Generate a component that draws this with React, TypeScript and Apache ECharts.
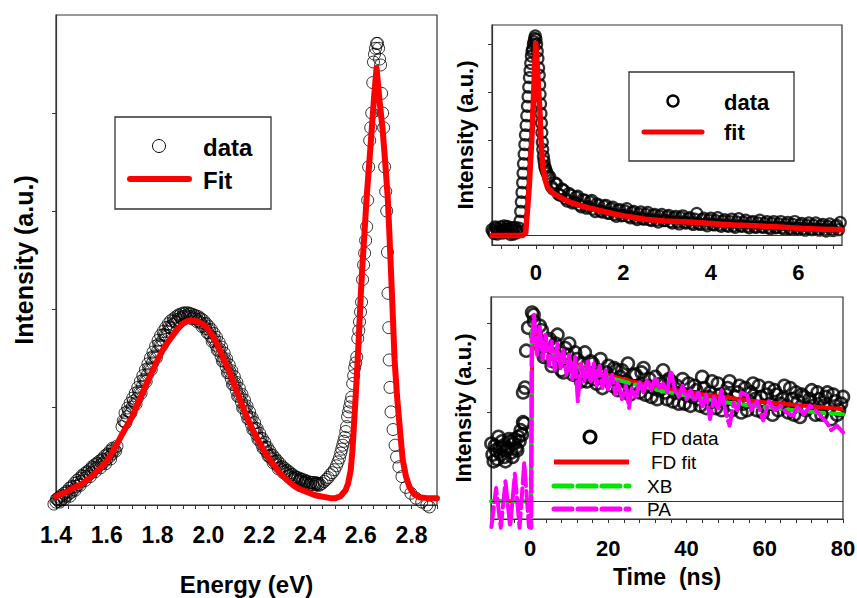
import React, { useEffect, useRef } from 'react';
import * as echarts from 'echarts';

const FONT = '"Liberation Sans", Arial, sans-serif';

// ---------- Left panel: PL spectrum ----------
const specData: number[][] = [
  [1.40, 0.03], [1.41, 0.04], [1.42, 0.05], [1.43, 0.07], [1.44, 0.09], [1.45, 0.11], [1.46, 0.13], [1.47, 0.16],
  [1.48, 0.19], [1.49, 0.21], [1.50, 0.24], [1.51, 0.27], [1.52, 0.29], [1.53, 0.31], [1.54, 0.33], [1.55, 0.36],
  [1.56, 0.38], [1.57, 0.40], [1.58, 0.42], [1.59, 0.44], [1.60, 0.47], [1.61, 0.49], [1.62, 0.52], [1.63, 0.56],
  [1.64, 0.60], [1.66, 0.80], [1.67, 0.85], [1.68, 0.90], [1.69, 0.95], [1.70, 1.00], [1.71, 1.04], [1.72, 1.09],
  [1.73, 1.15], [1.74, 1.21], [1.75, 1.27], [1.76, 1.33], [1.77, 1.39], [1.78, 1.45], [1.79, 1.51], [1.80, 1.57],
  [1.81, 1.63], [1.82, 1.68], [1.83, 1.73], [1.84, 1.77], [1.85, 1.81], [1.86, 1.84], [1.87, 1.87], [1.88, 1.89],
  [1.89, 1.91], [1.90, 1.92], [1.91, 1.93], [1.92, 1.93], [1.93, 1.92], [1.94, 1.91], [1.95, 1.90], [1.96, 1.88],
  [1.97, 1.86], [1.98, 1.83], [1.99, 1.80], [2.00, 1.76], [2.01, 1.72], [2.02, 1.68], [2.03, 1.63], [2.04, 1.58],
  [2.05, 1.52], [2.06, 1.47], [2.07, 1.41], [2.08, 1.35], [2.09, 1.29], [2.10, 1.23], [2.11, 1.17], [2.12, 1.11],
  [2.13, 1.05], [2.14, 0.99], [2.15, 0.93], [2.16, 0.88], [2.17, 0.82], [2.18, 0.77], [2.19, 0.72], [2.20, 0.67],
  [2.21, 0.62], [2.22, 0.58], [2.23, 0.54], [2.24, 0.50], [2.25, 0.47], [2.26, 0.44], [2.27, 0.41], [2.28, 0.38],
  [2.29, 0.36], [2.30, 0.34], [2.31, 0.32], [2.32, 0.30], [2.33, 0.28], [2.34, 0.27], [2.35, 0.26], [2.36, 0.25],
  [2.37, 0.24], [2.38, 0.23], [2.39, 0.22], [2.40, 0.21], [2.41, 0.21], [2.42, 0.21], [2.43, 0.21],
  [2.440, 0.21], [2.448, 0.22], [2.456, 0.24], [2.464, 0.26], [2.472, 0.28], [2.480, 0.31], [2.488, 0.33],
  [2.496, 0.36], [2.504, 0.40], [2.510, 0.44], [2.516, 0.48], [2.521, 0.53], [2.525, 0.57], [2.529, 0.61],
  [2.533, 0.65], [2.537, 0.69], [2.541, 0.75], [2.544, 0.80], [2.548, 0.90], [2.552, 0.95], [2.556, 1.00],
  [2.560, 1.05], [2.564, 1.10], [2.568, 1.24], [2.572, 1.32], [2.576, 1.40], [2.580, 1.45], [2.584, 1.51],
  [2.588, 1.70], [2.592, 1.78], [2.595, 1.87], [2.599, 1.97], [2.603, 2.07], [2.607, 2.30], [2.611, 2.45],
  [2.615, 2.57], [2.619, 2.70], [2.623, 2.84], [2.627, 3.11], [2.631, 3.45], [2.635, 3.72], [2.639, 3.85],
  [2.643, 4.00], [2.647, 4.31], [2.650, 4.52], [2.654, 4.60], [2.658, 4.66], [2.662, 4.71], [2.666, 4.71],
  [2.670, 4.66], [2.674, 4.55], [2.678, 4.49], [2.682, 4.20], [2.686, 4.00], [2.690, 3.85], [2.694, 3.45],
  [2.698, 3.20], [2.702, 3.00], [2.705, 2.58], [2.707, 2.16], [2.710, 1.81], [2.712, 1.48], [2.715, 1.20],
  [2.719, 0.95], [2.727, 0.77], [2.735, 0.61], [2.741, 0.49], [2.750, 0.39], [2.762, 0.29], [2.778, 0.18],
  [2.797, 0.12], [2.817, 0.07], [2.840, 0.03], [2.860, 0.00], [2.870, -0.02],
];

// second, interleaved scan of the broad band
const specData2: number[][] = [
  [1.405, 0.06], [1.415, 0.03], [1.425, 0.09], [1.435, 0.06], [1.445, 0.13], [1.455, 0.09], [1.465, 0.18],
  [1.475, 0.15], [1.485, 0.23], [1.495, 0.20], [1.505, 0.29], [1.515, 0.25], [1.525, 0.33], [1.535, 0.29],
  [1.545, 0.38], [1.555, 0.34], [1.565, 0.42], [1.575, 0.38], [1.585, 0.46], [1.595, 0.42], [1.605, 0.51],
  [1.615, 0.47], [1.625, 0.57], [1.635, 0.55],
  [1.665, 0.86], [1.675, 0.84], [1.685, 0.96], [1.695, 0.94], [1.705, 1.06], [1.715, 1.03], [1.725, 1.16],
  [1.735, 1.14], [1.745, 1.28], [1.755, 1.26], [1.765, 1.40], [1.775, 1.38], [1.785, 1.52], [1.795, 1.50],
  [1.805, 1.64], [1.815, 1.62], [1.825, 1.74], [1.835, 1.72], [1.845, 1.82], [1.855, 1.80], [1.865, 1.88],
  [1.875, 1.86], [1.885, 1.93], [1.895, 1.90], [1.905, 1.95], [1.915, 1.91], [1.925, 1.95], [1.935, 1.90],
  [1.945, 1.93], [1.955, 1.87], [1.965, 1.90], [1.975, 1.82], [1.985, 1.85], [1.995, 1.76], [2.005, 1.78],
  [2.015, 1.67], [2.025, 1.69], [2.035, 1.58], [2.045, 1.59], [2.055, 1.47], [2.065, 1.48], [2.075, 1.35],
  [2.085, 1.36], [2.095, 1.23], [2.105, 1.24], [2.115, 1.11], [2.125, 1.12], [2.135, 0.99], [2.145, 1.00],
  [2.155, 0.88], [2.165, 0.89], [2.175, 0.77], [2.185, 0.78], [2.195, 0.67], [2.205, 0.68], [2.215, 0.58],
  [2.225, 0.59], [2.235, 0.50], [2.245, 0.51], [2.255, 0.43], [2.265, 0.45], [2.275, 0.37], [2.285, 0.39],
  [2.295, 0.33], [2.305, 0.35], [2.315, 0.29], [2.325, 0.31], [2.335, 0.26], [2.345, 0.28], [2.355, 0.24],
  [2.365, 0.26], [2.375, 0.22], [2.385, 0.24], [2.395, 0.20], [2.405, 0.23], [2.415, 0.19], [2.425, 0.22],
  [2.435, 0.20],
];

// third scan, slightly broader
const specData3: number[][] = [
  [1.392, 0.01], [1.402, 0.06], [1.412, 0.08], [1.422, 0.10], [1.432, 0.12], [1.442, 0.14], [1.452, 0.17],
  [1.462, 0.19], [1.472, 0.22], [1.482, 0.25], [1.492, 0.27], [1.502, 0.30], [1.512, 0.32], [1.522, 0.34],
  [1.532, 0.36], [1.542, 0.39], [1.552, 0.41], [1.562, 0.43], [1.572, 0.45], [1.582, 0.47], [1.592, 0.50],
  [1.602, 0.52], [1.612, 0.55], [1.622, 0.58],
  [1.672, 0.94], [1.682, 0.99], [1.692, 1.04], [1.702, 1.09], [1.712, 1.14], [1.722, 1.20], [1.732, 1.26],
  [1.742, 1.32], [1.752, 1.38], [1.762, 1.44], [1.772, 1.50], [1.782, 1.56], [1.792, 1.62], [1.802, 1.68],
  [1.812, 1.73], [1.822, 1.77], [1.832, 1.81], [1.842, 1.85], [1.852, 1.88], [1.862, 1.90], [1.872, 1.92],
  [1.882, 1.94], [1.892, 1.95], [1.902, 1.96], [1.912, 1.96], [1.922, 1.96], [1.932, 1.95], [1.942, 1.94],
  [1.952, 1.93], [1.962, 1.92], [1.972, 1.90], [1.982, 1.88], [1.992, 1.85], [2.002, 1.82], [2.012, 1.79],
  [2.022, 1.75], [2.032, 1.71], [2.042, 1.66], [2.052, 1.61], [2.062, 1.55], [2.072, 1.49], [2.082, 1.43],
  [2.092, 1.37], [2.102, 1.31], [2.112, 1.25], [2.122, 1.19], [2.132, 1.13], [2.142, 1.07], [2.152, 1.01],
  [2.162, 0.95], [2.172, 0.89], [2.182, 0.84], [2.192, 0.78], [2.202, 0.73], [2.212, 0.68], [2.222, 0.64],
  [2.232, 0.59], [2.242, 0.55], [2.252, 0.51], [2.262, 0.48], [2.272, 0.45], [2.282, 0.42], [2.292, 0.39],
  [2.302, 0.37], [2.312, 0.35], [2.322, 0.33], [2.332, 0.31], [2.342, 0.29], [2.352, 0.28], [2.362, 0.27],
  [2.372, 0.26], [2.382, 0.25], [2.392, 0.24], [2.402, 0.23], [2.412, 0.23], [2.422, 0.23], [2.432, 0.22],
];

const specFit: number[][] = [
  [1.40, 0.09], [1.42, 0.11], [1.44, 0.13], [1.46, 0.16], [1.48, 0.19], [1.50, 0.21], [1.52, 0.25], [1.54, 0.29],
  [1.56, 0.34], [1.58, 0.39], [1.60, 0.45], [1.62, 0.53], [1.64, 0.62], [1.66, 0.72], [1.68, 0.81], [1.70, 0.90],
  [1.72, 1.02], [1.74, 1.14], [1.76, 1.26], [1.78, 1.37], [1.80, 1.48], [1.82, 1.58], [1.84, 1.66], [1.86, 1.73],
  [1.88, 1.80], [1.90, 1.85], [1.92, 1.88], [1.94, 1.88], [1.96, 1.87], [1.98, 1.84], [2.00, 1.79], [2.02, 1.71],
  [2.04, 1.61], [2.06, 1.49], [2.08, 1.38], [2.10, 1.24], [2.12, 1.11], [2.14, 0.97], [2.16, 0.85], [2.18, 0.74],
  [2.20, 0.64], [2.22, 0.55], [2.24, 0.47], [2.26, 0.40], [2.28, 0.33], [2.30, 0.28], [2.32, 0.23], [2.34, 0.19],
  [2.36, 0.16], [2.38, 0.14], [2.40, 0.12], [2.42, 0.10], [2.44, 0.09], [2.46, 0.08], [2.48, 0.07], [2.50, 0.07],
  [2.52, 0.09], [2.54, 0.15], [2.55, 0.22], [2.56, 0.35], [2.567, 0.55], [2.575, 0.90], [2.584, 1.30],
  [2.592, 1.70], [2.600, 2.15], [2.607, 2.47], [2.615, 2.80], [2.623, 3.14], [2.633, 3.48], [2.643, 3.83],
  [2.652, 4.15], [2.662, 4.46], [2.674, 4.12], [2.686, 3.83], [2.696, 3.50], [2.706, 3.14], [2.712, 2.80],
  [2.717, 2.50], [2.725, 2.00], [2.733, 1.48], [2.743, 1.10], [2.753, 0.80], [2.765, 0.46], [2.778, 0.29],
  [2.792, 0.18], [2.810, 0.11], [2.830, 0.08], [2.860, 0.07], [2.900, 0.07],
];

const energyLabels = [1.4, 1.6, 1.8, 2.0, 2.2, 2.4, 2.6, 2.8];

// ---------- Top-right panel: short time decay ----------
const decayData: number[][] = [
  [-1.00, 0.12], [-0.95, 0.04], [-0.90, 0.15], [-0.85, 0.07], [-0.80, 0.18], [-0.75, 0.05], [-0.70, 0.13],
  [-0.65, 0.19], [-0.60, 0.08], [-0.55, 0.16], [-0.50, 0.03], [-0.45, 0.12], [-0.40, 0.09],
  [-0.36, 0.30], [-0.33, 0.70], [-0.30, 1.10], [-0.28, 1.50], [-0.25, 1.90], [-0.22, 2.30], [-0.19, 2.70],
  [-0.16, 3.10], [-0.13, 3.45], [-0.10, 3.75], [-0.07, 3.90], [-0.04, 4.05], [-0.01, 4.17],
  [0.02, 4.00], [0.05, 3.70], [0.08, 3.35], [0.10, 2.95], [0.12, 2.55], [0.14, 2.15], [0.16, 1.80],
  [0.19, 1.55], [0.22, 1.40], [0.26, 1.30],
  [0.32, 1.23], [0.40, 0.97], [0.48, 1.07], [0.56, 0.84], [0.64, 0.94], [0.72, 0.72], [0.80, 0.84], [0.88, 0.70],
  [0.96, 0.82], [1.04, 0.60], [1.12, 0.73], [1.20, 0.60], [1.28, 0.73], [1.36, 0.50], [1.44, 0.63], [1.52, 0.49],
  [1.60, 0.63], [1.68, 0.46], [1.76, 0.59], [1.84, 0.40], [1.92, 0.54], [2.00, 0.42], [2.08, 0.56], [2.16, 0.37],
  [2.24, 0.50], [2.32, 0.33], [2.40, 0.49], [2.48, 0.34], [2.56, 0.48], [2.64, 0.31], [2.72, 0.44], [2.80, 0.28],
  [2.88, 0.44], [2.96, 0.31], [3.04, 0.42], [3.12, 0.26], [3.20, 0.40], [3.28, 0.24], [3.36, 0.41], [3.44, 0.26],
  [3.52, 0.37], [3.60, 0.23], [3.68, 0.46], [3.76, 0.23], [3.84, 0.36], [3.92, 0.20], [4.00, 0.36], [4.08, 0.22],
  [4.16, 0.37], [4.24, 0.19], [4.32, 0.33], [4.40, 0.19], [4.48, 0.34], [4.56, 0.17], [4.64, 0.35], [4.72, 0.19],
  [4.80, 0.32], [4.88, 0.16], [4.96, 0.29], [5.04, 0.17], [5.12, 0.32], [5.20, 0.17], [5.28, 0.29], [5.36, 0.14],
  [5.44, 0.29], [5.52, 0.17], [5.60, 0.29], [5.68, 0.13], [5.76, 0.27], [5.84, 0.13], [5.92, 0.29], [6.00, 0.14],
  [6.08, 0.25], [6.16, 0.11], [6.24, 0.26], [6.32, 0.12], [6.40, 0.26], [6.48, 0.11], [6.56, 0.23], [6.64, 0.09],
  [6.72, 0.24], [6.80, 0.10], [6.88, 0.21], [6.96, 0.27],
];

// second, interleaved scan
const decayData2: number[][] = [
  [-0.975, 0.08], [-0.925, 0.18], [-0.875, 0.03], [-0.825, 0.12], [-0.775, 0.10], [-0.725, 0.20],
  [-0.675, 0.07], [-0.625, 0.14], [-0.575, 0.02], [-0.525, 0.11], [-0.475, 0.17], [-0.425, 0.06],
  [-0.38, 0.15], [-0.345, 0.50], [-0.315, 0.90], [-0.29, 1.30], [-0.265, 1.70], [-0.235, 2.10], [-0.205, 2.50],
  [-0.175, 2.90], [-0.145, 3.30], [-0.115, 3.60], [-0.085, 3.85], [-0.055, 4.00], [-0.025, 4.12], [0.005, 4.10],
  [0.035, 3.85], [0.065, 3.50], [0.09, 3.15], [0.11, 2.75], [0.13, 2.35], [0.15, 1.95], [0.175, 1.65],
  [0.205, 1.45], [0.24, 1.35], [0.29, 1.22],
  [0.36, 1.02], [0.44, 1.10], [0.52, 0.86], [0.60, 0.97], [0.68, 0.77], [0.76, 0.88], [0.84, 0.68], [0.92, 0.80],
  [1.00, 0.64], [1.08, 0.75], [1.16, 0.57], [1.24, 0.70], [1.32, 0.55], [1.40, 0.66], [1.48, 0.51], [1.56, 0.61],
  [1.64, 0.47], [1.72, 0.56], [1.80, 0.44], [1.88, 0.53], [1.96, 0.41], [2.04, 0.51], [2.12, 0.40], [2.20, 0.48],
  [2.28, 0.37], [2.36, 0.45], [2.44, 0.35], [2.52, 0.44], [2.60, 0.33], [2.68, 0.42], [2.76, 0.32], [2.84, 0.40],
  [2.92, 0.31], [3.00, 0.39], [3.08, 0.29], [3.16, 0.37], [3.24, 0.28], [3.32, 0.37], [3.40, 0.27], [3.48, 0.35],
  [3.56, 0.26], [3.64, 0.34], [3.72, 0.25], [3.80, 0.33], [3.88, 0.24], [3.96, 0.32], [4.04, 0.23], [4.12, 0.31],
  [4.20, 0.22], [4.28, 0.30], [4.36, 0.21], [4.44, 0.29], [4.52, 0.20], [4.60, 0.28], [4.68, 0.20], [4.76, 0.27],
  [4.84, 0.19], [4.92, 0.27], [5.00, 0.18], [5.08, 0.26], [5.16, 0.18], [5.24, 0.25], [5.32, 0.17], [5.40, 0.25],
  [5.48, 0.16], [5.56, 0.24], [5.64, 0.16], [5.72, 0.23], [5.80, 0.15], [5.88, 0.23], [5.96, 0.15], [6.04, 0.22],
  [6.12, 0.14], [6.20, 0.21], [6.28, 0.13], [6.36, 0.21], [6.44, 0.13], [6.52, 0.20], [6.60, 0.12], [6.68, 0.19],
  [6.76, 0.12], [6.84, 0.19], [6.92, 0.12],
];

const decayFit: number[][] = [
  [-1.0, 0], [-0.5, 0], [-0.3, 0], [-0.23, 0.05], [-0.15, 1.0], [-0.08, 2.2], [-0.03, 3.4], [0.0, 4.02],
  [0.03, 3.6], [0.06, 3.1], [0.09, 2.67], [0.12, 2.0], [0.16, 1.42], [0.22, 1.15], [0.27, 1.0], [0.4, 0.88],
  [0.57, 0.79], [0.8, 0.69], [1.0, 0.63], [1.19, 0.58], [1.5, 0.51], [1.94, 0.42], [2.5, 0.34], [2.95, 0.30],
  [3.5, 0.28], [4.0, 0.25], [4.5, 0.22], [5.0, 0.20], [5.5, 0.18], [6.0, 0.15], [6.5, 0.13], [7.0, 0.12],
];

const shortTimeLabels = [0, 2, 4, 6];

// ---------- Bottom-right panel: long time decay ----------
const fdData: number[][] = [
  [-9.6, 1.05], [-9.0, 1.25], [-8.4, 0.95], [-7.8, 1.20], [-7.2, 1.35], [-6.6, 1.00], [-6.0, 1.15], [-5.4, 1.40],
  [-4.8, 1.10], [-4.2, 1.30], [-3.6, 1.20], [-3.0, 1.45], [-2.4, 1.60], [-1.8, 1.78], [-1.5, 1.75], [-1.8, 2.45],
  [-1.3, 2.56], [-1.0, 3.39], [-0.5, 3.91], [0.5, 4.25], [0.9, 4.20],
  [1, 4.05], [2, 3.55], [3, 3.85], [4, 3.30], [5, 3.65], [6, 3.15], [7, 3.75], [8, 2.95], [9, 3.45], [10, 3.55],
  [11, 2.85], [12, 3.20], [13, 2.70], [14, 3.35], [15, 2.80], [16, 3.10], [17, 2.65], [18, 3.20], [19, 2.75],
  [20, 3.05], [21, 2.60], [22, 2.95], [23, 2.80], [24, 2.50], [25, 3.10], [26, 2.55], [27, 2.85], [28, 2.45],
  [29, 3.00], [30, 2.60], [31, 2.35], [32, 2.80], [33, 2.50], [34, 2.95], [35, 2.30], [36, 2.70], [37, 2.45],
  [38, 2.20], [39, 2.75], [40, 2.40], [41, 2.15], [42, 2.60], [43, 2.30], [44, 2.80], [45, 2.10], [46, 2.45],
  [47, 2.25], [48, 2.65], [49, 2.05], [50, 2.40], [51, 2.70], [52, 2.15], [53, 2.45], [54, 2.00], [55, 2.55],
  [56, 2.25], [57, 2.65], [58, 2.05], [59, 2.35], [60, 2.15], [61, 2.55], [62, 1.95], [63, 2.40], [64, 2.20],
  [65, 2.60], [66, 2.00], [67, 2.30], [68, 2.45], [69, 1.90], [70, 2.35], [71, 2.10], [72, 2.50], [73, 1.95],
  [74, 2.30], [75, 2.15], [76, 2.45], [77, 1.85], [78, 2.25], [79, 2.05], [80, 2.35],
];

// second, interleaved scan
const fdData2: number[][] = [
  [-9.9, 1.30], [-9.3, 0.90], [-8.7, 1.15], [-8.1, 1.45], [-7.5, 1.05], [-6.9, 1.25], [-6.3, 0.90],
  [-5.7, 1.20], [-5.1, 1.35], [-4.5, 1.00], [-3.9, 1.40], [-3.3, 1.15], [-2.7, 1.35], [-2.1, 1.50],
  [1.5, 3.75], [2.5, 3.95], [3.5, 3.25], [4.5, 3.60], [5.5, 3.05], [6.5, 3.55], [7.5, 3.35], [8.5, 2.90],
  [9.5, 3.30], [10.5, 3.05], [11.5, 3.35], [12.5, 2.85], [13.5, 3.10], [14.5, 2.70], [15.5, 3.15], [16.5, 2.75],
  [17.5, 2.95], [18.5, 2.55], [19.5, 2.90], [20.5, 2.75], [21.5, 3.00], [22.5, 2.50], [23.5, 2.95], [24.5, 2.70],
  [25.5, 2.40], [26.5, 2.85], [27.5, 2.60], [28.5, 2.90], [29.5, 2.40], [30.5, 2.75], [31.5, 2.55], [32.5, 2.30],
  [33.5, 2.65], [34.5, 2.45], [35.5, 2.75], [36.5, 2.25], [37.5, 2.60], [38.5, 2.45], [39.5, 2.20], [40.5, 2.65],
  [41.5, 2.35], [42.5, 2.50], [43.5, 2.15], [44.5, 2.55], [45.5, 2.35], [46.5, 2.70], [47.5, 2.10], [48.5, 2.40],
  [49.5, 2.25], [50.5, 2.55], [51.5, 2.05], [52.5, 2.35], [53.5, 2.60], [54.5, 2.20], [55.5, 2.05], [56.5, 2.45],
  [57.5, 2.30], [58.5, 2.60], [59.5, 2.00], [60.5, 2.40], [61.5, 2.20], [62.5, 2.50], [63.5, 2.05], [64.5, 2.30],
  [65.5, 2.15], [66.5, 2.55], [67.5, 1.95], [68.5, 2.25], [69.5, 2.40], [70.5, 2.05], [71.5, 2.30], [72.5, 2.15],
  [73.5, 2.45], [74.5, 1.95], [75.5, 2.35], [76.5, 2.10], [77.5, 2.40], [78.5, 1.95], [79.5, 2.20],
];

const fdFit: number[][] = [
  [-10, 0], [0.2, 0], [0.5, 3.2], [0.8, 3.80], [2, 3.70], [4, 3.52], [6, 3.38], [8, 3.25], [10, 3.14],
  [13, 3.03], [16, 2.94], [20, 2.84], [25, 2.72], [30, 2.62], [35, 2.53], [40, 2.46], [45, 2.40], [50, 2.34],
  [55, 2.28], [60, 2.23], [65, 2.19], [70, 2.15], [75, 2.11], [80, 2.08],
];

const xbFit: number[][] = [
  [-10, 0], [0.3, 0], [0.4, 3.84], [2, 3.68], [4, 3.48], [6, 3.32], [8, 3.20], [10, 3.10], [13, 2.99],
  [16, 2.90], [20, 2.79], [25, 2.67], [30, 2.56], [35, 2.46], [40, 2.38], [45, 2.30], [50, 2.23], [55, 2.17],
  [60, 2.12], [65, 2.07], [70, 2.03], [75, 1.99], [80, 1.96],
];

const paData: number[][] = [
  [-9.9, -0.58], [-8.7, 0.30], [-7.5, -0.60], [-6.3, 0.45], [-5.1, -0.58], [-3.9, 0.62], [-2.7, -0.60],
  [-1.5, 0.88], [-0.3, -0.58], [0.3, -0.60], [0.45, 3.60], [1.0, 4.20], [1.8, 3.30],
  [2.5, 3.95], [3.2, 3.20], [4.0, 3.75], [4.8, 3.05], [5.5, 3.60], [6.3, 2.95], [7.0, 3.55], [7.8, 3.00],
  [8.5, 3.40], [9.3, 2.85], [10.0, 3.30], [10.8, 2.75], [11.5, 3.25], [12.2, 2.25], [13.0, 3.10], [13.8, 2.70],
  [14.8, 3.20], [15.5, 2.65], [16.3, 3.10], [17.0, 2.60], [17.8, 3.05], [18.5, 2.55], [19.3, 2.95], [20.0, 2.50],
  [21.0, 2.85], [21.8, 2.40], [22.5, 2.70], [23.5, 2.30], [24.5, 2.60], [25.3, 2.10], [26.0, 2.55], [27.0, 2.35],
  [28.0, 2.70], [29.0, 2.45], [30.0, 2.75], [31.0, 2.50], [32.0, 2.80], [33.0, 2.55], [34.0, 2.65], [35.0, 2.45],
  [36.0, 2.95], [37.0, 2.50], [38.0, 2.35], [39.0, 2.60], [40.0, 2.30], [41.0, 2.50], [42.0, 2.25], [43.0, 2.45],
  [44.0, 2.10], [45.0, 2.40], [46.0, 1.85], [47.0, 2.35], [48.0, 2.05], [49.0, 2.50], [50.0, 2.00], [51.0, 1.70],
  [52.0, 2.20], [53.0, 2.05], [54.0, 2.45], [55.5, 2.38], [56.5, 2.05], [58.0, 2.25], [59.6, 1.82], [61.0, 2.25],
  [62.5, 2.05], [64.0, 2.15], [65.5, 2.00], [67.3, 1.93], [68.5, 2.15], [70.0, 1.95], [71.5, 2.15], [73.0, 2.05],
  [74.5, 1.90], [75.8, 1.78], [77.0, 1.60], [78.5, 1.70], [80.0, 1.55],
];

const longTimeLabels = [0, 20, 40, 60, 80];

function range(a: number, b: number, step: number): number[] {
  const out: number[] = [];
  const n = Math.round((b - a) / step);
  for (let i = 0; i <= n; i++) out.push(+(a + i * step).toFixed(4));
  return out;
}

const AXIS_COLOR = '#333';

function xAxis(gridIndex: number, min: number, max: number, labels: number[], ticks: number[],
  name: string, nameGap: number, margin: number, fmt: (v: number) => string, fontSize: number, nameSize: number) {
  return {
    type: 'value', gridIndex, min, max,
    axisLine: { show: true, onZero: false, lineStyle: { color: AXIS_COLOR, width: 1.2 } },
    axisTick: { show: true, customValues: ticks, length: 4, inside: false, lineStyle: { color: AXIS_COLOR, width: 1 } },
    axisLabel: {
      show: true, customValues: labels, formatter: fmt, margin, color: '#000',
      fontSize, fontWeight: 'bold', fontFamily: FONT,
    },
    splitLine: { show: false },
    name, nameLocation: 'middle', nameGap,
    nameTextStyle: { color: '#000', fontSize: nameSize, fontWeight: 'bold', fontFamily: FONT },
  };
}

function yAxis(gridIndex: number, min: number, max: number, ticks: number[], nameGap: number, nameSize: number) {
  return {
    type: 'value', gridIndex, min, max,
    axisLine: { show: true, onZero: false, lineStyle: { color: AXIS_COLOR, width: 1.2 } },
    axisTick: { show: true, customValues: ticks, length: 4, inside: false, lineStyle: { color: AXIS_COLOR, width: 1 } },
    axisLabel: { show: false },
    splitLine: { show: false },
    name: 'Intensity (a.u.)', nameLocation: 'middle', nameGap,
    nameTextStyle: { color: '#000', fontSize: nameSize, fontWeight: 'bold', fontFamily: FONT },
  };
}

const zeroLine = {
  silent: true, symbol: ['none', 'none'], label: { show: false },
  lineStyle: { color: '#333', width: 1, type: 'solid' }, data: [{ yAxis: 0 }],
};

function legendText(text: string, x: number, y: number, size: number, weight: string) {
  return {
    type: 'text', x, y, z: 100,
    style: { text, fill: '#000', fontSize: size, fontWeight: weight, fontFamily: FONT, verticalAlign: 'middle', align: 'left' },
  };
}

const ring = (size: number, bw: number) => ({
  symbol: 'circle', symbolSize: size,
  itemStyle: { color: 'rgba(0,0,0,0)', borderColor: '#000', borderWidth: bw },
});

export default function App() {
  const ref = useRef<HTMLDivElement>(null);
  useEffect(() => {
    const chart = echarts.init(ref.current!, null, { renderer: 'svg' });
    const gridStyle = { show: true, borderColor: AXIS_COLOR, borderWidth: 1.2, backgroundColor: 'transparent', containLabel: false, outerBoundsMode: 'none' };
    const option: any = {
      animation: false,
      backgroundColor: '#fff',
      grid: [
        { ...gridStyle, left: 56, top: 15, width: 381, height: 490 },
        { ...gridStyle, left: 492, top: 25, width: 350, height: 220 },
        { ...gridStyle, left: 491, top: 297, width: 352, height: 222 },
      ],
      xAxis: [
        xAxis(0, 1.4, 2.9, energyLabels, range(1.4, 2.9, 0.05), 'Energy (eV)', 67, 18, (v: number) => v.toFixed(1), 23, 24),
        xAxis(1, -1, 7, shortTimeLabels, range(-0.8, 6.8, 0.4), '', 0, 16, (v: number) => String(v), 22, 22),
        xAxis(2, -10, 80, longTimeLabels, range(-8, 80, 4), 'Time  (ns)', 46, 18, (v: number) => String(v), 22, 23),
      ],
      yAxis: [
        yAxis(0, 0, 5, [1, 2, 3, 4], 20, 25),
        yAxis(1, -0.2, 4.4, [1, 2, 3, 4], 16, 22),
        yAxis(2, -0.4, 4.6, [1, 2, 3, 4], 17, 22),
      ],
      series: [
        { type: 'scatter', xAxisIndex: 0, yAxisIndex: 0, data: specData, clip: false, ...ring(12, 1) },
        { type: 'scatter', xAxisIndex: 0, yAxisIndex: 0, data: specData2, clip: false, ...ring(12, 1) },
        { type: 'scatter', xAxisIndex: 0, yAxisIndex: 0, data: specData3, clip: false, ...ring(12, 1) },
        {
          type: 'line', xAxisIndex: 0, yAxisIndex: 0, data: specFit, showSymbol: false, symbol: 'none',
          lineStyle: { color: '#ff0000', width: 6, cap: 'round', join: 'round' },
        },
        { type: 'scatter', xAxisIndex: 1, yAxisIndex: 1, data: decayData, clip: false, ...ring(11, 2.2), markLine: zeroLine },
        { type: 'scatter', xAxisIndex: 1, yAxisIndex: 1, data: decayData2, clip: false, ...ring(11, 2.2) },
        {
          type: 'line', xAxisIndex: 1, yAxisIndex: 1, data: decayFit, showSymbol: false, symbol: 'none',
          lineStyle: { color: '#ff0000', width: 5.5, cap: 'round', join: 'round' },
        },
        { type: 'scatter', xAxisIndex: 2, yAxisIndex: 2, data: fdData, clip: false, ...ring(12, 2.6), markLine: zeroLine },
        { type: 'scatter', xAxisIndex: 2, yAxisIndex: 2, data: fdData2, clip: false, ...ring(12, 2.6) },
        {
          type: 'line', xAxisIndex: 2, yAxisIndex: 2, data: fdFit, showSymbol: false, symbol: 'none',
          lineStyle: { color: '#ff0000', width: 4, join: 'round' },
        },
        {
          type: 'line', xAxisIndex: 2, yAxisIndex: 2, data: xbFit, showSymbol: false, symbol: 'none',
          lineStyle: { color: '#00e600', width: 4, type: [16, 6], cap: 'round', join: 'round' },
        },
        {
          type: 'line', xAxisIndex: 2, yAxisIndex: 2, data: paData, showSymbol: false, symbol: 'none', clip: false,
          lineStyle: { color: '#ff00ff', width: 4, type: [20, 5], cap: 'round', join: 'round' },
        },
      ],
      graphic: [
        // left legend
        { type: 'rect', z: 90, shape: { x: 115, y: 117, width: 156, height: 92 }, style: { fill: '#fff', stroke: '#333', lineWidth: 1.3 } },
        { type: 'circle', z: 100, shape: { cx: 159, cy: 146, r: 6.5 }, style: { fill: 'none', stroke: '#000', lineWidth: 1 } },
        legendText('data', 203, 147, 24, 'bold'),
        { type: 'line', z: 100, shape: { x1: 130, y1: 179, x2: 189, y2: 179 }, style: { stroke: '#ff0000', lineWidth: 6, lineCap: 'round' } },
        legendText('Fit', 203, 180, 24, 'bold'),
        // top-right legend
        { type: 'rect', z: 90, shape: { x: 629, y: 72, width: 165, height: 89 }, style: { fill: '#fff', stroke: '#333', lineWidth: 1.3 } },
        { type: 'circle', z: 100, shape: { cx: 673, cy: 101, r: 5.5 }, style: { fill: 'none', stroke: '#000', lineWidth: 2.4 } },
        legendText('data', 724, 102, 22, 'bold'),
        { type: 'line', z: 100, shape: { x1: 644, y1: 132, x2: 702, y2: 132 }, style: { stroke: '#ff0000', lineWidth: 5, lineCap: 'round' } },
        legendText('fit', 724, 132, 22, 'bold'),
        // bottom-right legend
        { type: 'circle', z: 100, shape: { cx: 590, cy: 437, r: 6 }, style: { fill: 'none', stroke: '#000', lineWidth: 3 } },
        legendText('FD data', 651, 438, 19, 'normal'),
        { type: 'line', z: 100, shape: { x1: 554, y1: 462, x2: 629, y2: 462 }, style: { stroke: '#ff0000', lineWidth: 5 } },
        legendText('FD fit', 651, 462, 19, 'normal'),
        { type: 'line', z: 100, shape: { x1: 554, y1: 486, x2: 629, y2: 486 }, style: { stroke: '#00e600', lineWidth: 5, lineDash: [18, 6], lineCap: 'round' } },
        legendText('XB', 647, 486, 19, 'normal'),
        { type: 'line', z: 100, shape: { x1: 554, y1: 509, x2: 629, y2: 509 }, style: { stroke: '#ff00ff', lineWidth: 5, lineDash: [18, 6], lineCap: 'round' } },
        legendText('PA', 647, 509, 19, 'normal'),
      ],
    };
    chart.setOption(option);
    return () => chart.dispose();
  }, []);
  return <div ref={ref} style={{ position: 'absolute', left: 0, top: 0, width: 857, height: 598, background: '#fff' }} />;
}
